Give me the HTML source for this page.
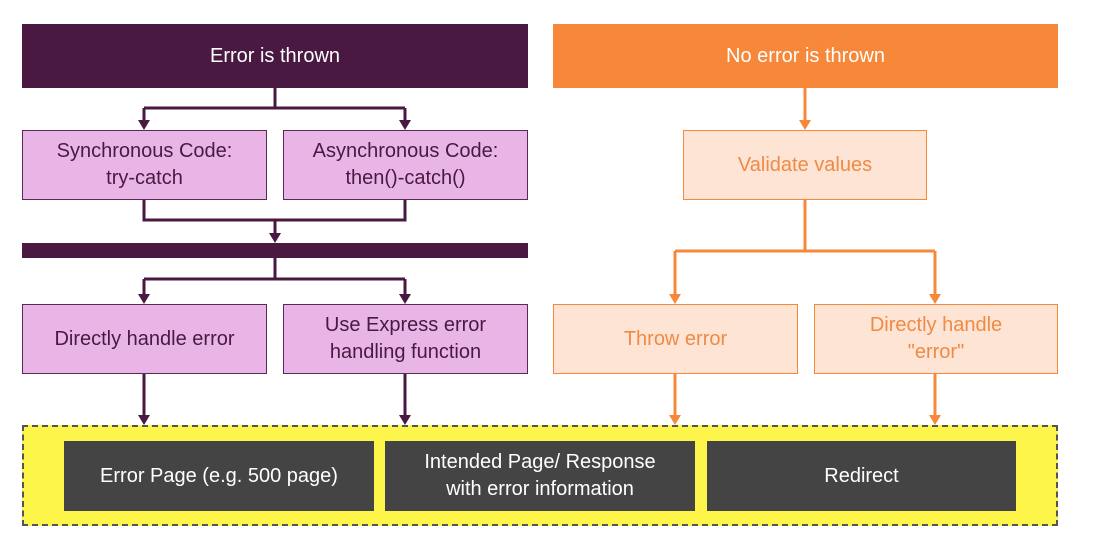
<!DOCTYPE html>
<html><head><style>
body{margin:0;width:1100px;height:547px;background:#fff;position:relative;overflow:hidden;font-family:"Liberation Sans",sans-serif;}
.b{position:absolute;box-sizing:border-box;display:flex;align-items:center;justify-content:center;text-align:center;font-size:20px;line-height:27px;}
.ph{background:#4a1942;color:#fff;}
.oh{background:#f7883a;color:#fff;}
.pb{background:#e8b5e6;border:1.5px solid #5a2a52;color:#4a1942;}
.ob{background:#fde4d4;border:1.5px solid #f7883a;color:#f08a45;}
.db{background:#444;color:#fff;}
svg{position:absolute;left:0;top:0;}
</style></head><body>
<div class="b ph" style="left:22px;top:24px;width:506px;height:64px;">Error is thrown</div>
<div class="b oh" style="left:553px;top:24px;width:505px;height:64px;">No error is thrown</div>
<div class="b pb" style="left:22px;top:130px;width:245px;height:70px;">Synchronous Code:<br>try-catch</div>
<div class="b pb" style="left:283px;top:130px;width:245px;height:70px;">Asynchronous Code:<br>then()-catch()</div>
<div class="b ph" style="left:22px;top:243px;width:506px;height:15px;"></div>
<div class="b pb" style="left:22px;top:304px;width:245px;height:70px;">Directly handle error</div>
<div class="b pb" style="left:283px;top:304px;width:245px;height:70px;">Use Express error<br>handling function</div>
<div class="b ob" style="left:683px;top:130px;width:244px;height:70px;">Validate values</div>
<div class="b ob" style="left:553px;top:304px;width:245px;height:70px;">Throw error</div>
<div class="b ob" style="left:814px;top:304px;width:244px;height:70px;">Directly handle<br>"error"</div>
<div class="b" style="left:22px;top:425px;width:1036px;height:101px;background:#fdf54a;border:2px dashed #555;"></div>
<div class="b db" style="left:64px;top:441px;width:310px;height:70px;">Error Page (e.g. 500 page)</div>
<div class="b db" style="left:385px;top:441px;width:310px;height:70px;">Intended Page/ Response<br>with error information</div>
<div class="b db" style="left:707px;top:441px;width:309px;height:70px;">Redirect</div>
<svg width="1100" height="547">
<g stroke="#4a1942" stroke-width="3" fill="none">
<path d="M275,88 V108 M144,108 H405 M144,108 V122 M405,108 V122"/>
<path d="M144,200 V220 H405 V200 M275,220 V236" />
<path d="M275,258 V279 M144,279 H405 M144,279 V296 M405,279 V296"/>
<path d="M144,374 V418 M405,374 V418"/>
</g>
<g fill="#4a1942">
<path d="M138,120 H150 L144,130 Z M399,120 H411 L405,130 Z"/>
<path d="M269,233 H281 L275,243 Z"/>
<path d="M138,294 H150 L144,304 Z M399,294 H411 L405,304 Z"/>
<path d="M138,415 H150 L144,425 Z M399,415 H411 L405,425 Z"/>
</g>
<g stroke="#f7883a" stroke-width="3" fill="none">
<path d="M805,88 V122"/>
<path d="M805,200 V251 M675,251 H935 M675,251 V296 M935,251 V296"/>
<path d="M675,374 V418 M935,374 V418"/>
</g>
<g fill="#f7883a">
<path d="M799,120 H811 L805,130 Z"/>
<path d="M669,294 H681 L675,304 Z M929,294 H941 L935,304 Z"/>
<path d="M669,415 H681 L675,425 Z M929,415 H941 L935,425 Z"/>
</g>
</svg>
</body></html>
